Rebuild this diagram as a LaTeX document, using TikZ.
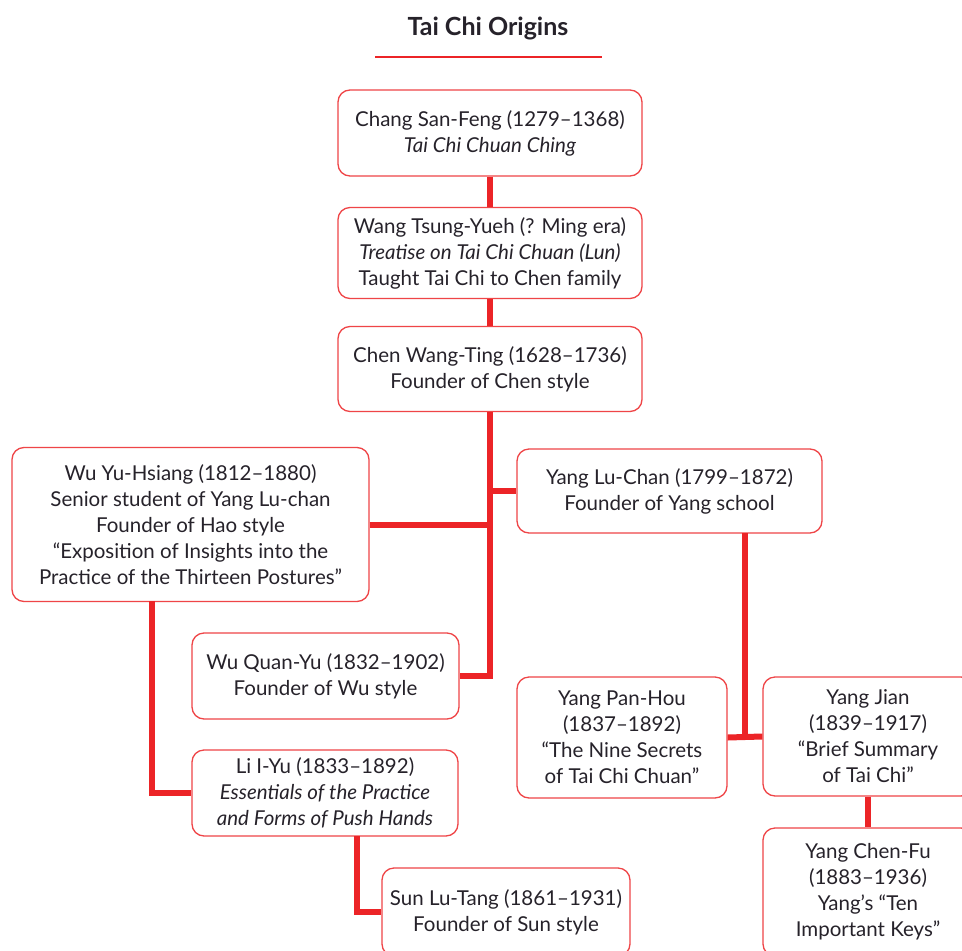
\documentclass[tikz,border=0pt]{standalone}
\usepackage{fontspec}
\setmainfont{Lato}
\definecolor{tcred}{HTML}{EC2427}
\definecolor{tcink}{HTML}{26222A}
\begin{document}
\begin{tikzpicture}[x=1pt,y=-1pt,
  box/.style={draw=tcred!85, line width=1.3pt, rounded corners=12pt, fill=white,
    align=center, inner sep=0pt, text=tcink,
    font=\fontsize{20.5}{26}\selectfont},
  link/.style={draw=tcred, line width=6pt}]
\path[use as bounding box, clip] (0,0) rectangle (962,951);
\fill[white] (0,0) rectangle (962,951);
\node[text=tcink, font=\bfseries\fontsize{25}{30}\selectfont] (title) at (488,28) {Tai Chi Origins};
\coordinate (ulA) at (375,57);
\coordinate (ulB) at (602,57);
\draw[tcred, line width=2pt] (ulA) -- (ulB);

\node[box, minimum width=304, minimum height=86] (chang) at (490,133)
  {Chang San-Feng (1279–1368)\\\textit{Tai Chi Chuan Ching}};
\node[box, minimum width=304, minimum height=91] (wang) at (490,253)
  {Wang Tsung-Yueh (? Ming era)\\\textit{Treatise on Tai Chi Chuan (Lun)}\\Taught Tai Chi to Chen family};
\node[box, minimum width=304, minimum height=85] (chen) at (490,369)
  {Chen Wang-Ting (1628–1736)\\Founder of Chen style};
\node[box, minimum width=357, minimum height=154] (wuyu) at (190.5,524.5)
  {Wu Yu-Hsiang (1812–1880)\\Senior student of Yang Lu-chan\\Founder of Hao style\\“Exposition of Insights into the\\Practice of the Thirteen Postures”};
\node[box, minimum width=305, minimum height=84] (yanglu) at (669.5,491)
  {Yang Lu-Chan (1799–1872)\\Founder of Yang school};
\node[box, minimum width=267, minimum height=86] (wuquan) at (325.5,676)
  {Wu Quan-Yu (1832–1902)\\Founder of Wu style};
\node[box, minimum width=266, minimum height=86] (li) at (325,793)
  {Li I-Yu (1833–1892)\\\textit{Essentials of the Practice}\\\textit{and Forms of Push Hands}};
\node[box, minimum width=248, minimum height=88] (sun) at (506,912)
  {Sun Lu-Tang (1861–1931)\\Founder of Sun style};
\node[box, minimum width=210, minimum height=121] (panhou) at (622,737.5)
  {Yang Pan-Hou\\(1837–1892)\\“The Nine Secrets\\of Tai Chi Chuan”};
\node[box, minimum width=210, minimum height=119] (jian) at (868,736.5)
  {Yang Jian\\(1839–1917)\\“Brief Summary\\of Tai Chi”};
\node[box, minimum width=210, minimum height=128] (chenfu) at (868,892)
  {Yang Chen-Fu\\(1883–1936)\\Yang’s “Ten\\Important Keys”};

\coordinate (wuyuDown) at (152,601);
\coordinate (liDown) at (357,836);
\coordinate (ylDown) at (745,533);

\draw[link] (chang.south) -- (wang.north);
\draw[link] (wang.south) -- (chen.north);
\draw[link] (chen.south) |- (wuquan.east);
\draw[link] (chen.south |- yanglu.west) -- (yanglu.west);
\draw[link] (wuyu.east) -- (wuyu.east -| chen.south);
\draw[link] (wuyuDown) |- (li.west);
\draw[link] (liDown) |- (sun.west);
\draw[link] (panhou.east) -- (jian.west);
\draw[link] (ylDown) -- (ylDown |- panhou.east);
\draw[link] (jian.south) -- (chenfu.north);
\end{tikzpicture}
\end{document}
